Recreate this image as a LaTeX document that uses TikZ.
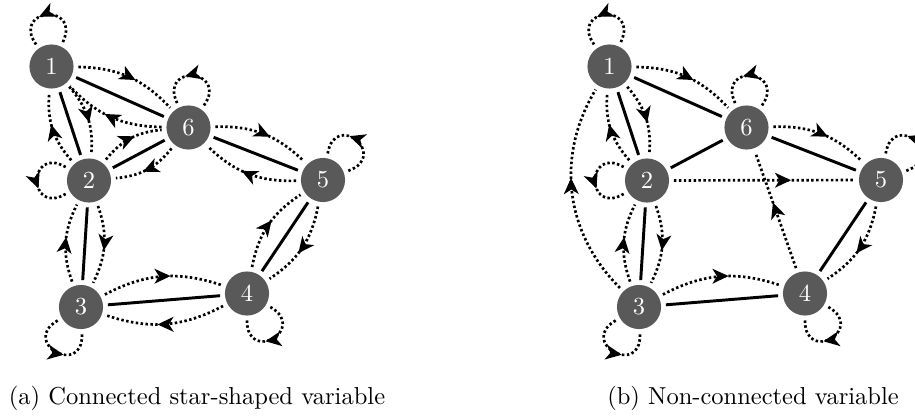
\documentclass[tikz,border=0pt]{standalone}
\usepackage{tikz}
\usetikzlibrary{arrows.meta,decorations.markings}

\begin{document}
\begin{tikzpicture}[x=0.408pt, y=0.408pt,
    vertex/.style={circle, fill=black!65, text=white, minimum size=18pt, inner sep=0pt, outer sep=2pt},
    link/.style={line width=1.2pt},
    flow/.style={line width=1.1pt, dash pattern=on 1pt off 1pt,
      postaction={decorate}, decoration={markings,
        mark=at position #1 with {\arrow{Stealth[length=6.5pt,width=6pt,inset=1.8pt]}}}},
    flow/.default=0.57,
    selfloop/.style={flow=0.6, distance=18pt}]

  \useasboundingbox (0,0) rectangle (915,419);

  % (a) connected star-shaped variable
  \node[vertex] (a1) at (51.5,352.5) {1};
  \node[vertex] (a6) at (188.5,291.5) {6};
  \node[vertex] (a2) at (89,238.5) {2};
  \node[vertex] (a5) at (323,239) {5};
  \node[vertex] (a3) at (81,112) {3};
  \node[vertex] (a4) at (247,125.5) {4};

  \draw[link] (a1) -- (a6);
  \draw[link] (a1) -- (a2);
  \draw[link] (a2) -- (a6);
  \draw[link] (a6) -- (a5);
  \draw[link] (a2) -- (a3);
  \draw[link] (a3) -- (a4);
  \draw[link] (a4) -- (a5);

  \draw[flow] (a1) to[bend left=23] (a6);
  \draw[flow] (a6) to[bend left=23] (a1);
  \draw[flow] (a1) to[bend left=23] (a2);
  \draw[flow] (a2) to[bend left=23] (a1);
  \draw[flow] (a2) to[bend left=23] (a6);
  \draw[flow] (a6) to[bend left=23] (a2);
  \draw[flow] (a6) to[bend left=23] (a5);
  \draw[flow] (a5) to[bend left=23] (a6);
  \draw[flow] (a2) to[bend left=23] (a3);
  \draw[flow] (a3) to[bend left=23] (a2);
  \draw[flow] (a3) to[bend left=23] (a4);
  \draw[flow] (a4) to[bend left=23] (a3);
  \draw[flow] (a4) to[bend left=23] (a5);
  \draw[flow] (a5) to[bend left=23] (a4);

  \draw[selfloop] (a1) to[out=65,in=125] (a1);
  \draw[selfloop] (a6) to[out=55,in=115] (a6);
  \draw[selfloop] (a5) to[out=20,in=80] (a5);
  \draw[selfloop] (a2) to[out=150,in=210] (a2);
  \draw[selfloop] (a3) to[out=210,in=272] (a3);
  \draw[selfloop] (a4) to[out=-30,in=-90] (a4);

  \node[anchor=base] (capa) at (197,15) {(a) Connected star-shaped variable};

  % (b) non-connected variable
  \node[vertex] (b1) at (609.5,352.5) {1};
  \node[vertex] (b6) at (746.5,291.5) {6};
  \node[vertex] (b2) at (647,238.5) {2};
  \node[vertex] (b5) at (881,239) {5};
  \node[vertex] (b3) at (639,112) {3};
  \node[vertex] (b4) at (805,125.5) {4};

  \draw[link] (b1) -- (b6);
  \draw[link] (b1) -- (b2);
  \draw[link] (b2) -- (b6);
  \draw[link] (b6) -- (b5);
  \draw[link] (b2) -- (b3);
  \draw[link] (b3) -- (b4);
  \draw[link] (b4) -- (b5);

  \draw[flow] (b1) to[bend left=23] (b6);
  \draw[flow] (b1) to[bend left=23] (b2);
  \draw[flow] (b2) to[bend left=23] (b1);
  \draw[flow] (b6) to[bend left=23] (b5);
  \draw[flow=0.65] (b2) -- (b5);
  \draw[flow] (b4) -- (b6);
  \draw[flow] (b2) to[bend left=23] (b3);
  \draw[flow] (b3) to[bend left=23] (b2);
  \draw[flow] (b3) to[bend left=38] (b1);
  \draw[flow] (b3) to[bend left=23] (b4);
  \draw[flow] (b5) to[bend left=23] (b4);

  \draw[selfloop] (b1) to[out=65,in=125] (b1);
  \draw[selfloop] (b6) to[out=55,in=115] (b6);
  \draw[selfloop] (b5) to[out=20,in=80] (b5);
  \draw[selfloop] (b2) to[out=150,in=210] (b2);
  \draw[selfloop] (b3) to[out=210,in=272] (b3);
  \draw[selfloop] (b4) to[out=-30,in=-90] (b4);

  \node[anchor=base] (capb) at (753,15) {(b) Non-connected variable};
\end{tikzpicture}
\end{document}
